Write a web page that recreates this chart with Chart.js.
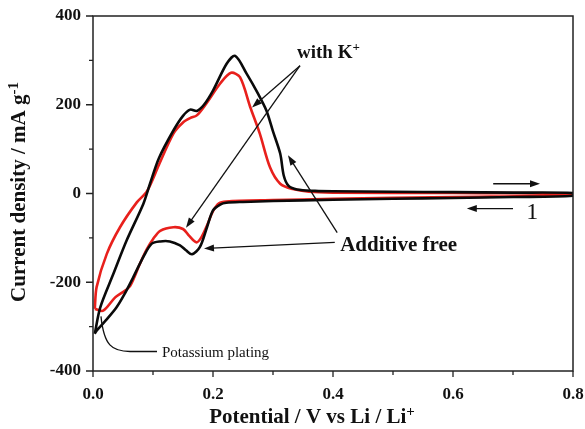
<!DOCTYPE html>
<html>
<head>
<meta charset="utf-8">
<script src="https://cdn.jsdelivr.net/npm/chart.js@4"></script>
<style>
  html, body { margin: 0; padding: 0; background: #fff; }
  canvas { display: block; }
</style>
</head>
<body>
<canvas id="cv" width="585" height="429"></canvas>
<script>
// Cyclic voltammogram, 1st cycle: additive free (black) vs with K+ (red)
// potential in V vs Li/Li+, current density in mA g-1

const potentialFree = [
  0.003, 0.012, 0.034, 0.056, 0.084, 0.095, 0.11, 0.134, 0.15, 0.162, 0.173, 0.185, 0.2, 0.223, 0.237,
  0.256, 0.275, 0.289, 0.3, 0.312, 0.318, 0.326, 0.34, 0.37, 0.4, 0.5, 0.6, 0.7, 0.8,
  0.8, 0.7, 0.6, 0.5, 0.4, 0.3, 0.25, 0.222, 0.212, 0.2, 0.19, 0.178, 0.165, 0.155, 0.145, 0.128,
  0.112, 0.098, 0.085, 0.067, 0.052, 0.039, 0.022, 0.006, 0.003
];
const currentFree = [
  -316, -257, -181, -106, -23, 22, 80, 142, 175, 189, 186, 200, 232, 293, 310,
  270, 225, 187, 140, 90, 40, 17, 9, 6, 5, 4, 3, 2, 1,
  -5, -8, -10, -12, -14, -17, -19, -21, -25, -38, -76, -121, -137, -128, -117, -108,
  -108, -113, -140, -189, -228, -257, -285, -309, -316
];

const potentialK = [
  0.003, 0.006, 0.023, 0.045, 0.073, 0.09, 0.11, 0.134, 0.15, 0.162, 0.173, 0.189, 0.212, 0.23,
  0.245, 0.262, 0.278, 0.295, 0.312, 0.333, 0.36, 0.4, 0.6, 0.8,
  0.8, 0.6, 0.4, 0.3, 0.222, 0.21, 0.2, 0.19, 0.18, 0.172, 0.16, 0.15, 0.134, 0.112, 0.1005,
  0.09, 0.078, 0.062, 0.05, 0.037, 0.017, 0.003
];
const currentK = [
  -260, -211, -136, -76, -20, 5, 65, 135, 160, 170, 176, 203, 248, 272,
  262, 195, 135, 59, 22, 10, 4, 2, 1, 0,
  -4, -8, -12, -15, -18, -22, -40, -72, -100, -110, -95, -80, -76, -84, -102,
  -125, -159, -208, -222, -234, -264, -260
];

const xTicks = [0, 0.2, 0.4, 0.6, 0.8];
const xMinorTicks = [0.1, 0.3, 0.5, 0.7];
const yTicks = [-400, -200, 0, 200, 400];
const yMinorTicks = [-300, -100, 100, 300];

const FONT = '"Liberation Serif", "Times New Roman", serif';

function toPoints(xs, ys) {
  return xs.map((x, i) => ({ x: x, y: ys[i] }));
}

// text pieces with optional superscript
function richWidth(ctx, parts, size) {
  let w = 0;
  parts.forEach(p => {
    ctx.font = 'bold ' + (p.sup ? Math.round(size * 0.7) : size) + 'px ' + FONT;
    w += ctx.measureText(p.t).width;
  });
  return w;
}

function drawRich(ctx, parts, x, y, size, weight) {
  let cx = x;
  parts.forEach(p => {
    const s = p.sup ? Math.round(size * 0.7) : size;
    ctx.font = weight + ' ' + s + 'px ' + FONT;
    ctx.fillText(p.t, cx, p.sup ? y - size * 0.3 : y);
    cx += ctx.measureText(p.t).width;
  });
}

function arrow(ctx, x1, y1, x2, y2) {
  const ang = Math.atan2(y2 - y1, x2 - x1);
  const len = 10, half = 3.5;
  ctx.beginPath();
  ctx.moveTo(x1, y1);
  ctx.lineTo(x2 - Math.cos(ang) * len * 0.8, y2 - Math.sin(ang) * len * 0.8);
  ctx.stroke();
  ctx.beginPath();
  ctx.moveTo(x2, y2);
  ctx.lineTo(x2 - Math.cos(ang) * len + Math.sin(ang) * half, y2 - Math.sin(ang) * len - Math.cos(ang) * half);
  ctx.lineTo(x2 - Math.cos(ang) * len - Math.sin(ang) * half, y2 - Math.sin(ang) * len + Math.cos(ang) * half);
  ctx.closePath();
  ctx.fill();
}

const decorations = {
  id: 'decorations',
  afterDraw(chart) {
    const ctx = chart.ctx;
    const xs = chart.scales.x, ys = chart.scales.y;
    const area = chart.chartArea;
    const px = v => xs.getPixelForValue(v);
    const py = v => ys.getPixelForValue(v);

    ctx.save();
    ctx.strokeStyle = '#222';
    ctx.fillStyle = '#111';
    ctx.lineWidth = 1.5;
    ctx.strokeRect(area.left, area.top, area.right - area.left, area.bottom - area.top);

    // tick marks, pointing outward
    ctx.lineWidth = 1.3;
    ctx.beginPath();
    yTicks.forEach(v => { ctx.moveTo(area.left - 7, py(v)); ctx.lineTo(area.left, py(v)); });
    yMinorTicks.forEach(v => { ctx.moveTo(area.left - 4, py(v)); ctx.lineTo(area.left, py(v)); });
    xTicks.forEach(v => { ctx.moveTo(px(v), area.bottom); ctx.lineTo(px(v), area.bottom + 6); });
    xMinorTicks.forEach(v => { ctx.moveTo(px(v), area.bottom); ctx.lineTo(px(v), area.bottom + 4); });
    ctx.stroke();

    // axis titles
    ctx.textBaseline = 'middle';
    ctx.textAlign = 'left';
    const xTitle = [{ t: 'Potential / V vs Li / Li' }, { t: '+', sup: true }];
    const xw = richWidth(ctx, xTitle, 21);
    drawRich(ctx, xTitle, 312 - xw / 2, 418, 21, 'bold');

    const yTitle = [{ t: 'Current density / mA g' }, { t: '-1', sup: true }];
    const yw = richWidth(ctx, yTitle, 21);
    ctx.save();
    ctx.translate(20, 192);
    ctx.rotate(-Math.PI / 2);
    drawRich(ctx, yTitle, -yw / 2, 0, 21, 'bold');
    ctx.restore();

    // annotations
    ctx.lineWidth = 1.3;
    ctx.strokeStyle = '#111';
    drawRich(ctx, [{ t: 'with K' }, { t: '+', sup: true }], px(0.34), py(316), 19, 'bold');
    arrow(ctx, px(0.345), py(288), px(0.265), py(194));
    arrow(ctx, px(0.345), py(288), px(0.155), py(-77));

    drawRich(ctx, [{ t: 'Additive free' }], px(0.412), py(-117), 21, 'bold');
    arrow(ctx, px(0.407), py(-88), px(0.325), py(86));
    arrow(ctx, px(0.403), py(-110), px(0.185), py(-124));

    arrow(ctx, px(0.667), py(22), px(0.745), py(22));
    arrow(ctx, px(0.70), py(-34), px(0.623), py(-34));
    ctx.font = '24px ' + FONT;
    ctx.fillText('1', px(0.722), py(-44));

    ctx.beginPath();
    ctx.moveTo(px(0.0133), py(-277));
    ctx.bezierCurveTo(px(0.0183), py(-343), px(0.0317), py(-356), px(0.0617), py(-356));
    ctx.lineTo(px(0.1067), py(-356));
    ctx.stroke();
    ctx.font = '15px ' + FONT;
    ctx.fillText('Potassium plating', px(0.115), py(-360));
    ctx.restore();
  }
};

new Chart(document.getElementById('cv'), {
  type: 'scatter',
  data: {
    datasets: [
      {
        label: 'Additive free',
        data: toPoints(potentialFree, currentFree),
        showLine: true,
        borderColor: '#0a0a0a',
        borderWidth: 2.6,
        pointRadius: 0,
        tension: 0.3
      },
      {
        label: 'with K+',
        data: toPoints(potentialK, currentK),
        showLine: true,
        borderColor: '#e8201c',
        borderWidth: 2.6,
        pointRadius: 0,
        tension: 0.3
      }
    ]
  },
  options: {
    responsive: false,
    animation: false,
    devicePixelRatio: 1,
    layout: { padding: { left: 0, top: 16, right: 12, bottom: 0 } },
    plugins: { legend: { display: false }, tooltip: { enabled: false } },
    scales: {
      x: {
        type: 'linear',
        min: 0,
        max: 0.8,
        afterBuildTicks: s => { s.ticks = xTicks.map(v => ({ value: v })); },
        afterFit: s => { s.height = 58; s.paddingLeft = 0; s.paddingRight = 0; },
        grid: { display: false, drawTicks: false },
        border: { display: false },
        ticks: {
          padding: 13,
          color: '#111',
          maxRotation: 0,
          font: { family: FONT, size: 17, weight: 'bold' },
          callback: v => Number(v).toFixed(1)
        }
      },
      y: {
        min: -400,
        max: 400,
        afterBuildTicks: s => { s.ticks = yTicks.map(v => ({ value: v })); },
        afterFit: s => { s.width = 93; s.paddingTop = 0; s.paddingBottom = 0; },
        grid: { display: false, drawTicks: false },
        border: { display: false },
        ticks: {
          padding: 12,
          color: '#111',
          font: { family: FONT, size: 17, weight: 'bold' },
          callback: v => String(v)
        }
      }
    }
  },
  plugins: [decorations]
});
</script>
</body>
</html>
